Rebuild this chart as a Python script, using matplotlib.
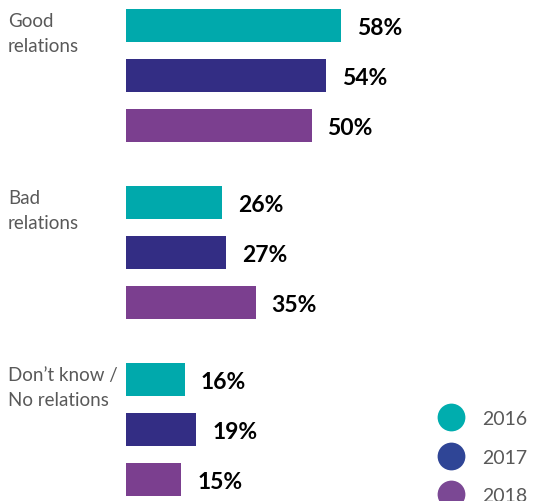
import matplotlib.pyplot as plt
from matplotlib.lines import Line2D
from matplotlib.transforms import blended_transform_factory

# data
categories = ['Good\nrelations', 'Bad\nrelations', 'Don\u2019t know /\nNo relations']
years = ['2016', '2017', '2018']
values = {
    '2016': [58, 26, 16],
    '2017': [54, 27, 19],
    '2018': [50, 35, 15],
}
bar_colors = ['#00a9ac', '#332d84', '#7b3f8f']
legend_colors = ['#00adae', '#2f4596', '#7b4894']

plt.rcParams['font.family'] = ['Lato', 'DejaVu Sans']

W, H = 540, 502
fig = plt.figure(figsize=(W / 100, H / 100), dpi=100)
# axes starts where the bars start
left_px = 125.5
ax = fig.add_axes([left_px / W, 0, 1 - left_px / W, 1])
ax.set_xlim(0, (W - left_px) / 3.72)
# one slot = 50 px, first bar centre at 26.5 px
ax.set_ylim((H - 26.5) / 50, -26.5 / 50)
ax.axis('off')

group_step = 3.54
bar_h = 0.66
trans = blended_transform_factory(fig.transFigure, ax.transData)

for i, cat in enumerate(categories):
    base = i * group_step
    for j, yr in enumerate(years):
        v = values[yr][i]
        y = base + j
        ax.barh(y, v, height=bar_h, color=bar_colors[j], linewidth=0)
        ax.annotate(f'{v}%', (v, y), xytext=(16, -2), textcoords='offset pixels',
                    ha='left', va='center', fontsize=16.5, fontweight='bold',
                    color='black')
    ax.text(8 / W, base - bar_h / 2 + 0.06, cat, transform=trans, ha='left',
            va='top', fontsize=13.5, color='#595959', linespacing=1.6)

handles = [Line2D([], [], marker='o', linestyle='none', markersize=20,
                  markerfacecolor=c, markeredgewidth=0) for c in legend_colors]
leg = fig.legend(handles, years, loc='upper left',
                 bbox_to_anchor=(429 / W, 1 - 403.5 / H), frameon=False,
                 fontsize=14, labelcolor='#595959', handletextpad=0.85,
                 labelspacing=1.1, borderaxespad=0, handlelength=1.5)

fig.savefig('out.png', dpi=100)
